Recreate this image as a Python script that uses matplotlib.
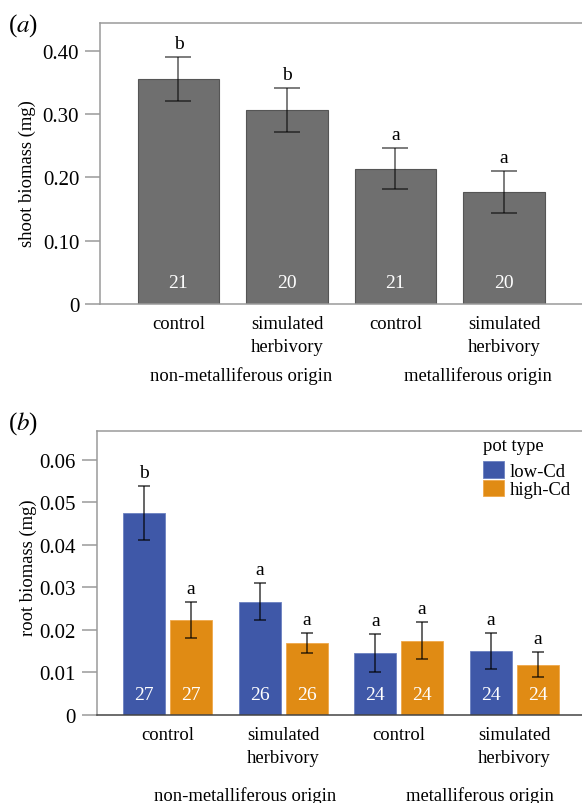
import numpy as np
import matplotlib.pyplot as plt

plt.rcParams['font.family'] = ['Liberation Serif', 'DejaVu Serif']
plt.rcParams['mathtext.fontset'] = 'stix'

# panel (a): shoot biomass
treatments = ["control", "simulated\nherbivory", "control", "simulated\nherbivory"]
origins = ["non-metalliferous origin", "metalliferous origin"]
shoot_mean = [0.355, 0.307, 0.214, 0.177]
shoot_err = [0.035, 0.035, 0.033, 0.033]
shoot_n = [21, 20, 21, 20]
shoot_letters = ["b", "b", "a", "a"]

# panel (b): root biomass, by pot type
pot_types = ["low-Cd", "high-Cd"]
root_low = [0.0475, 0.0266, 0.0146, 0.0150]
root_low_err = [0.0063, 0.0043, 0.0044, 0.0042]
root_high = [0.0223, 0.0169, 0.0175, 0.0118]
root_high_err = [0.0042, 0.0024, 0.0043, 0.0029]
root_low_n = [27, 26, 24, 24]
root_high_n = [27, 26, 24, 24]
root_low_letters = ["b", "a", "a", "a"]
root_high_letters = ["a", "a", "a", "a"]

gray = "#6f6f6f"
blue = "#3f58a8"
orange = "#e08b14"
spine_c = "#9a9a9a"
fs = 13.4

fig = plt.figure(figsize=(5.82, 8.04), dpi=100)
W, H = 582, 804


def style(ax):
    for s in ["top", "left", "bottom"]:
        ax.spines[s].set_color(spine_c)
        ax.spines[s].set_linewidth(1.1)
    ax.spines["right"].set_visible(False)
    ax.tick_params(axis="y", direction="out", length=11, width=1.1,
                   color=spine_c, labelsize=15, pad=4)
    ax.tick_params(axis="x", length=0, labelsize=fs, pad=8)


x = np.arange(4)

# ---- (a)
ax1 = fig.add_axes([100 / W, 1 - 305 / H, 482 / W, 281 / H])
style(ax1)
ax1.bar(x, shoot_mean, width=0.747, color=gray, edgecolor="#555555", linewidth=0.8)
ax1.errorbar(x, shoot_mean, yerr=shoot_err, fmt="none", ecolor="black",
             alpha=0.6, elinewidth=1.2, capsize=9.5, capthick=1.2)
for xi, m, e, let, n in zip(x, shoot_mean, shoot_err, shoot_letters, shoot_n):
    ax1.annotate(let, (xi, m + e), xytext=(0, 5), textcoords="offset pixels",
                 ha="center", va="bottom", fontsize=14)
    ax1.annotate(str(n), (xi, 0), xytext=(0, 22), textcoords="offset pixels",
                 ha="center", va="center", fontsize=14, color="white")
ax1.set_xlim(-0.7235, 3.719)
ax1.set_ylim(0, 0.444)
ax1.set_yticks([0, 0.1, 0.2, 0.3, 0.4])
ax1.set_yticklabels(["0", "0.10", "0.20", "0.30", "0.40"])
ax1.set_xticks(x)
ax1.set_xticklabels(treatments, linespacing=1.45)
ax1.set_ylabel("shoot biomass (mg)", fontsize=fs)
ax1.yaxis.set_label_coords(-0.133, 0.468)
for ox, lab in zip([0.58, 2.76], origins):
    ax1.annotate(lab, (ox, 0), xycoords=("data", "axes fraction"),
                 xytext=(0, -71), textcoords="offset pixels",
                 ha="center", va="center", fontsize=fs)
fig.text(8 / W, 1 - 26 / H, r"($\mathit{a}$)", fontsize=18, va="center")

# ---- (b)
ax2 = fig.add_axes([96.7 / W, 1 - 716 / H, 485.3 / W, 284.3 / H])
style(ax2)
ax2.spines["bottom"].set_color("#444444")
ax2.spines["bottom"].set_linestyle((0, (1, 1)))
off, bw = 0.202, 0.364
ax2.bar(x - off, root_low, width=bw, color=blue, edgecolor="#6b80c0",
        linewidth=0.6, label=pot_types[0])
ax2.bar(x + off, root_high, width=bw, color=orange, edgecolor="#f0a84a",
        linewidth=0.6, label=pot_types[1])
ax2.errorbar(x - off, root_low, yerr=root_low_err, fmt="none", ecolor="black",
             alpha=0.7, elinewidth=1.2, capsize=4.2, capthick=1.2)
ax2.errorbar(x + off, root_high, yerr=root_high_err, fmt="none", ecolor="black",
             alpha=0.7, elinewidth=1.2, capsize=4.2, capthick=1.2)
for xs, vals, errs, lets, ns in [(x - off, root_low, root_low_err, root_low_letters, root_low_n),
                                 (x + off, root_high, root_high_err, root_high_letters, root_high_n)]:
    for xi, m, e, let, n in zip(xs, vals, errs, lets, ns):
        ax2.annotate(let, (xi, m + e), xytext=(0, 5), textcoords="offset pixels",
                     ha="center", va="bottom", fontsize=14)
        ax2.annotate(str(n), (xi, 0), xytext=(0, 21), textcoords="offset pixels",
                     ha="center", va="center", fontsize=14, color="white")
ax2.set_xlim(-0.615, 3.587)
ax2.set_ylim(0, 0.0668)
ax2.set_yticks([0, 0.01, 0.02, 0.03, 0.04, 0.05, 0.06])
ax2.set_yticklabels(["0", "0.01", "0.02", "0.03", "0.04", "0.05", "0.06"])
ax2.set_xticks(x)
ax2.set_xticklabels(treatments, linespacing=1.45)
ax2.set_ylabel("root biomass (mg)", fontsize=fs)
ax2.yaxis.set_label_coords(-0.123, 0.52)
for ox, lab in zip([0.67, 2.70], origins):
    ax2.annotate(lab, (ox, 0), xycoords=("data", "axes fraction"),
                 xytext=(0, -80), textcoords="offset pixels",
                 ha="center", va="center", fontsize=fs)
fig.text(8 / W, 1 - 424 / H, r"($\mathit{b}$)", fontsize=18, va="center")

leg = ax2.legend(title="pot type", loc="upper left",
                 bbox_to_anchor=(483 / W, 1 - 438 / H), bbox_transform=fig.transFigure,
                 frameon=False, fontsize=fs, title_fontsize=fs, borderpad=0,
                 handlelength=1.15, handleheight=1.0, handletextpad=0.3,
                 labelspacing=0.0, borderaxespad=0)
leg._legend_box.align = "left"
leg._legend_box.sep = 5

fig.savefig("out.png", dpi=100)
